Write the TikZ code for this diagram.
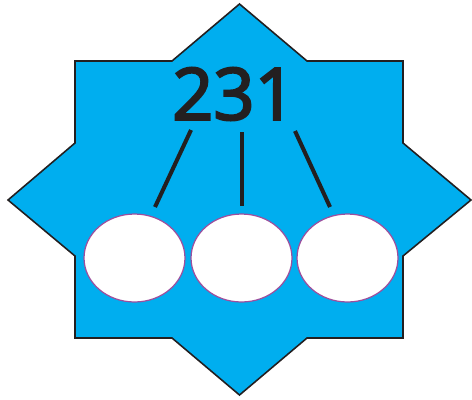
\documentclass[tikz,border=0pt]{standalone}
\usepackage{fontspec}
\newfontfamily\cifras[FakeBold=3]{Open Sans}
\usetikzlibrary{shapes.geometric}
\definecolor{azul}{HTML}{00AEEF}
\definecolor{morado}{HTML}{9C4F9E}
\definecolor{tinta}{HTML}{231F20}
\tikzset{
  hueco/.style={ellipse,draw=morado,fill=white,line width=0.7pt,minimum width=2.02cm,minimum height=1.76cm,inner sep=0pt},
  trazo/.style={tinta,line width=2.3pt}
}

\begin{document}
\begin{tikzpicture}[x=0.02cm,y=-0.02cm]
    \useasboundingbox (0,0) rectangle (472,399);
    \filldraw[fill=azul,draw=tinta,line width=0.9pt] (239.5,4) -- (307,61) -- (403,61) -- (403,143) -- (471,200) -- (403,256) -- (403,338) -- (307,338) -- (239.5,395) -- (172,338) -- (75,338) -- (75,256) -- (8,200) -- (75,143) -- (75,61) -- (172,61) -- cycle;
    \node[font=\cifras\fontsize{41}{41}\selectfont,text=tinta,inner sep=0pt] (num) at (234,94) {231};
    \foreach \x/\n in {134.5/a,241.5/b,347.5/c}{
      \node[hueco] (\n) at (\x,258) {};
    }
    \coordinate (ta) at (191,130);
    \coordinate (ba) at (155,207);
    \coordinate (tb) at (242,132);
    \coordinate (bb) at (242,206);
    \coordinate (tc) at (295,131);
    \coordinate (bc) at (330,207);
    \foreach \n in {a,b,c}{
      \draw[trazo] (t\n) -- (b\n);
    }
  \end{tikzpicture}
\end{document}
